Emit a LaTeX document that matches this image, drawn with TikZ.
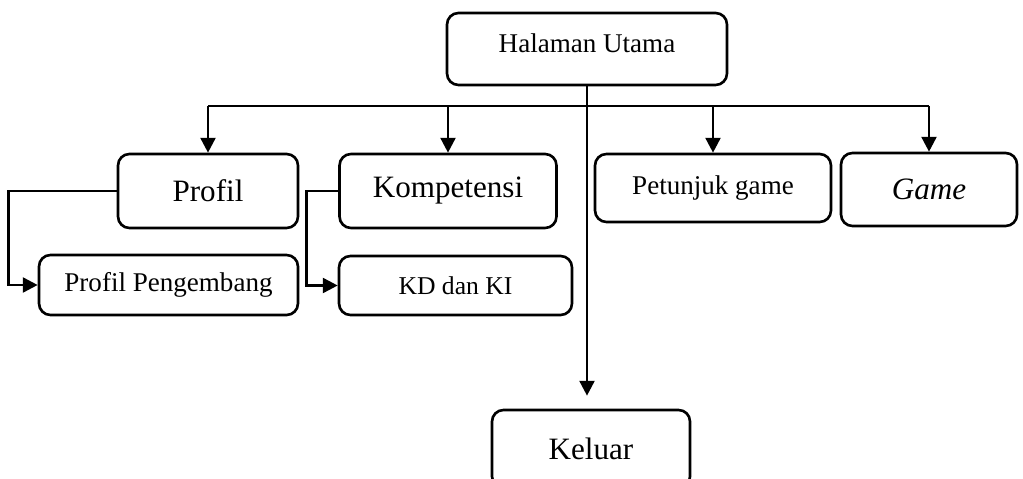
\documentclass[tikz,border=0pt]{standalone}
\usepackage{fontspec}
\setmainfont{Liberation Serif}
\usetikzlibrary{arrows.meta,positioning}

\begin{document}
\begin{tikzpicture}[x=0.02cm,y=-0.02cm,
  kotak/.style={draw,line width=1.5pt,rounded corners=6.5pt,inner sep=0pt,align=center},
  besar/.style={font=\fontsize{17.7}{21}\selectfont},
  sedang/.style={font=\fontsize{15.4}{18}\selectfont},
  kecil/.style={font=\fontsize{14.6}{17}\selectfont},
  garis/.style={line width=1.5pt},
  panah/.style={line width=1.5pt,-{Triangle[length=8.5pt,width=8.5pt]}}]
  \clip (0,0) rectangle (1023,479);
  \node[kotak,sedang,text depth=7pt,minimum width=5.6cm,minimum height=1.44cm] (utama) at (587,49) {Halaman Utama};
  \node[kotak,besar,minimum width=3.6cm,minimum height=1.48cm] (profil) at (208,191) {Profil};
  \node[kotak,besar,minimum width=4.34cm,minimum height=1.48cm] (komp) at (448,191) {Kompetensi};
  \node[kotak,sedang,minimum width=4.72cm,minimum height=1.36cm] (petunjuk) at (713,188) {Petunjuk game};
  \node[kotak,besar,minimum width=3.52cm,minimum height=1.46cm] (game) at (929,189.5) {\textit{Game}};
  \node[kotak,sedang,minimum width=5.18cm,minimum height=1.2cm] (pengembang) at (168.5,285) {Profil Pengembang};
  \node[kotak,kecil,minimum width=4.66cm,minimum height=1.18cm] (kdki) at (455.5,285.5) {KD dan KI};
  \node[kotak,besar,minimum width=3.96cm,minimum height=1.56cm] (keluar) at (591,449) {Keluar};
  \coordinate (bus) at (0,106);
  % garis ke menu
  \draw[garis] (profil.north |- bus) -- (game.north |- bus);
  \foreach \n in {profil,komp,petunjuk,game}
    \draw[panah] (\n.north |- bus) -- (\n.north);
  \draw[panah,shorten >=7.4pt] (utama.south) -- (utama.south |- keluar.north);
  % sub menu
  \draw[panah] (profil.west) -- ++(-108,0) |- (pengembang.west);
  \draw[panah] (komp.west) -- ++(-32,0) |- (kdki.west);
\end{tikzpicture}
\end{document}
